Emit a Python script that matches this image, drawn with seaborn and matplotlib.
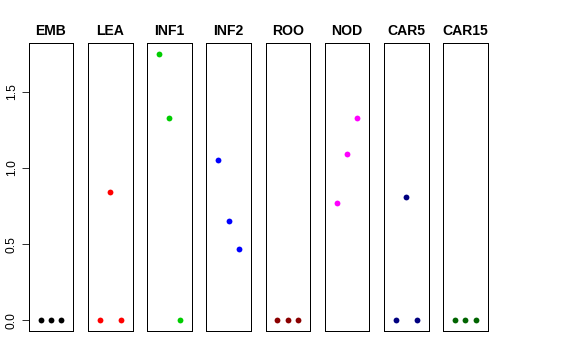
import pandas as pd
import matplotlib
matplotlib.use('Agg')
import matplotlib.pyplot as plt
import seaborn as sns

# values, three replicates per tissue
tissues = ['EMB', 'LEA', 'INF1', 'INF2', 'ROO', 'NOD', 'CAR5', 'CAR15']
replicate = [1, 2, 3]
emb = [0.0, 0.0, 0.0]
lea = [0.0, 0.84, 0.0]
inf1 = [1.75, 1.33, 0.0]
inf2 = [1.05, 0.65, 0.47]
roo = [0.0, 0.0, 0.0]
nod = [0.77, 1.09, 1.33]
car5 = [0.0, 0.81, 0.0]
car15 = [0.0, 0.0, 0.0]
colors = ['black', 'red', '#00CD00', 'blue', '#8B0000', 'magenta', '#000080', '#006400']

values = [emb, lea, inf1, inf2, roo, nod, car5, car15]
df = pd.DataFrame({
    'tissue': [t for t in tissues for _ in replicate],
    'rep': replicate * len(tissues),
    'expr': [v for vals in values for v in vals],
})

sns.set_style('white')
plt.rcParams['font.family'] = ['Liberation Sans', 'DejaVu Sans']
plt.rcParams['text.color'] = 'black'
plt.rcParams['ytick.color'] = 'black'
plt.rcParams['axes.labelcolor'] = 'black'

fig = plt.figure(figsize=(8, 5), dpi=72)
W, H = 576, 360
ylim = (-0.07, 1.82)

for i, (t, c) in enumerate(zip(tissues, colors)):
    left = 28.7 + i * 59.2
    ax = fig.add_axes([left / W, 29 / H, 44.6 / W, 288 / H])
    sub = df[df['tissue'] == t]
    sns.scatterplot(data=sub, x='rep', y='expr', color=c, s=34, linewidth=0, ax=ax)
    ax.set_xlim(-0.16, 4.16)
    ax.set_ylim(*ylim)
    ax.set_xlabel('')
    ax.set_ylabel('')
    ax.set_xticks([])
    for sp in ax.spines.values():
        sp.set_visible(True)
        sp.set_color('black')
        sp.set_linewidth(1)
    ax.set_title(t, fontsize=14, fontweight='bold', pad=8, color='black')
    if i == 0:
        ax.set_yticks([0, 0.5, 1.0, 1.5])
        ax.set_yticklabels(['0.0', '0.5', '1.0', '1.5'], rotation=90, va='center', fontsize=12)
        ax.tick_params(axis='y', left=True, length=7, width=0.8, pad=4, colors='black')
    else:
        ax.set_yticks([])

fig.savefig('out.png', dpi=72)
